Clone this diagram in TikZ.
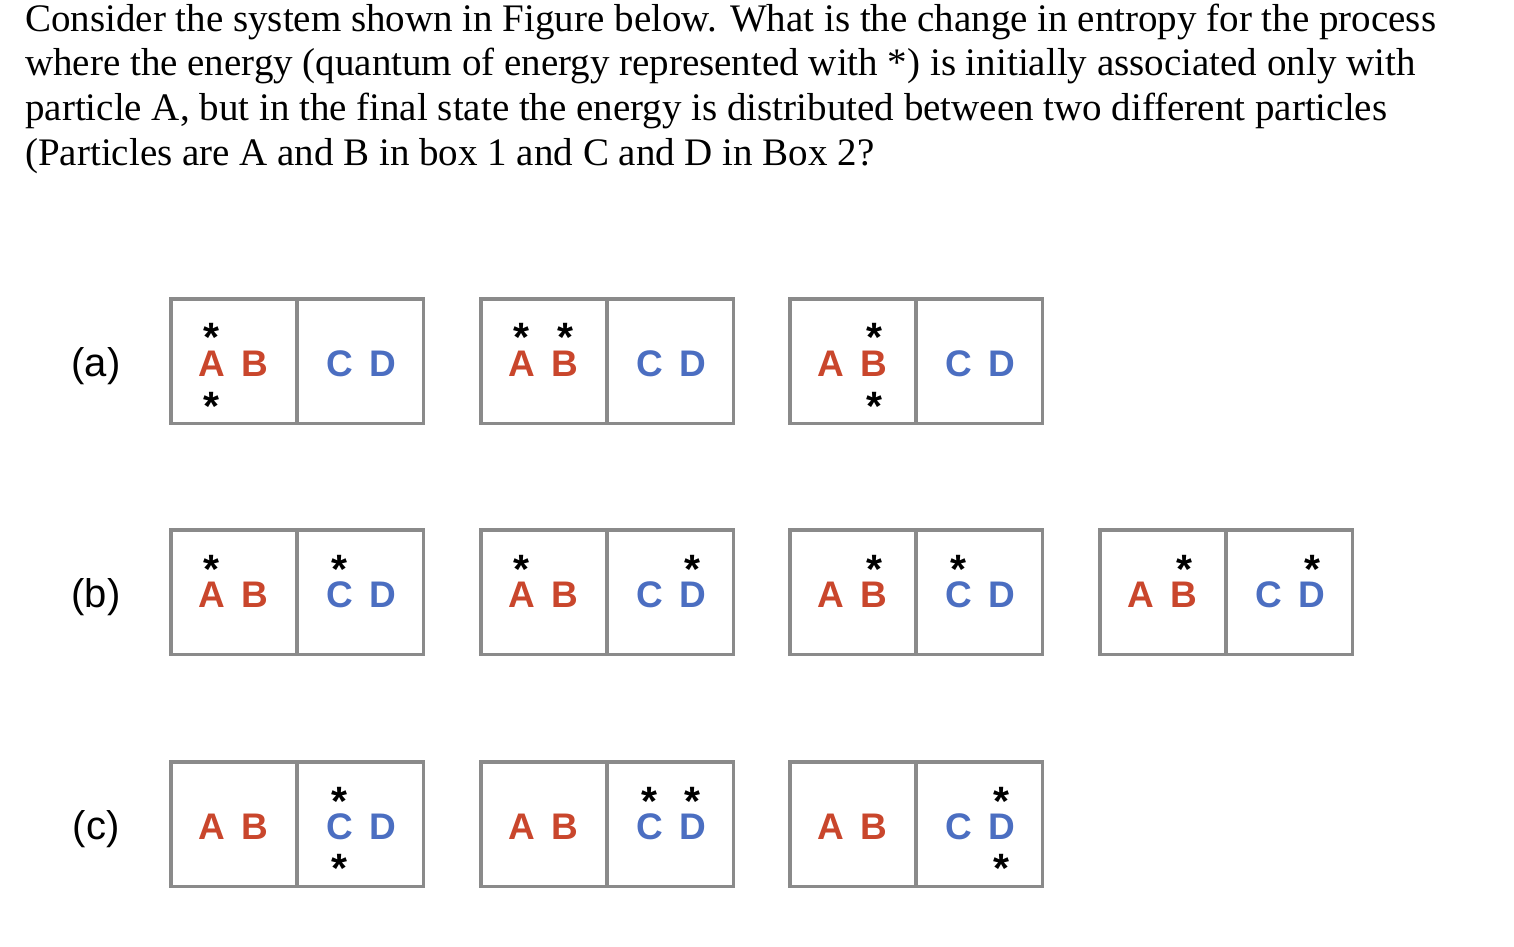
\documentclass[tikz,border=0pt]{standalone}
\usepackage{fontspec}
\setmainfont{Liberation Serif}
\setsansfont{Liberation Sans}
\definecolor{boxgray}{HTML}{8A8A8A}
\definecolor{pred}{HTML}{C9462C}
\definecolor{pblue}{HTML}{4B6EC1}
\tikzset{
  half/.style={draw=boxgray, line width=3.5pt, inner sep=0pt, minimum width=126pt, minimum height=124.5pt},
  redletter/.style={font=\sffamily\bfseries\fontsize{37}{37}\selectfont, text=pred, anchor=base, inner sep=0pt},
  blueletter/.style={font=\sffamily\bfseries\fontsize{37}{37}\selectfont, text=pblue, anchor=base, inner sep=0pt},
  starnode/.style={font=\sffamily\bfseries\fontsize{41}{41}\selectfont, anchor=base, inner sep=0pt},
  rowlabel/.style={font=\sffamily\fontsize{40}{40}\selectfont, anchor=base, inner sep=0pt},
  titleline/.style={font=\rmfamily\fontsize{39}{39}\selectfont, anchor=base west, inner sep=0pt},
}
\newcommand\twobox[3]{%
  \node[half] (#1L) at ({#2+64.75},{#3+64}) {};
  \node[half] (#1R) at ({#2+191.25},{#3+64}) {};
  \node[redletter] (#1A) at ({#2+43},{#3+79}) {A};
  \node[redletter] (#1B) at ({#2+86},{#3+79}) {B};
  \node[blueletter] (#1C) at ({#2+171},{#3+79}) {C};
  \node[blueletter] (#1D) at ({#2+214},{#3+79}) {D};
}
% #1 name, #2 x, #3 star centre y
\newcommand\starat[3]{\node[starnode] (#1) at ({#2},{#3}) {\raisebox{-0.58em}[0.17em][0.17em]{*}};}
\begin{document}
\begin{tikzpicture}[x=1pt,y=-1pt]
\useasboundingbox (0,0) rectangle (1514,946);
\node[titleline] (t1) at (25,31) {Consider the system shown in Figure below. What is the change in entropy for the process};
\node[titleline] (t2) at (25,75) {where the energy (quantum of energy represented with *) is initially associated only with};
\node[titleline] (t3) at (25,120) {particle A, but in the final state the energy is distributed between two different particles};
\node[titleline] (t4) at (25,165) {(Particles are A and B in box 1 and C and D in Box 2?};
% row labels
\node[rowlabel] (la) at (96,376) {(a)};
\node[rowlabel] (lb) at (96,607) {(b)};
\node[rowlabel] (lc) at (96,839) {(c)};
% row (a)
\twobox{a1}{169}{297}
\twobox{a2}{479}{297}
\twobox{a3}{788}{297}
\starat{sa1t}{211}{328}
\starat{sa1b}{211}{397}
\starat{sa2t}{521}{328}
\starat{sa2u}{565}{328}
\starat{sa3t}{874}{328}
\starat{sa3b}{874}{397}
% row (b)
\twobox{b1}{169}{528}
\twobox{b2}{479}{528}
\twobox{b3}{788}{528}
\twobox{b4}{1098}{528}
\starat{sb1t}{211}{560}
\starat{sb1u}{339}{560}
\starat{sb2t}{521}{560}
\starat{sb2u}{692}{560}
\starat{sb3t}{874}{560}
\starat{sb3u}{958}{560}
\starat{sb4t}{1184}{560}
\starat{sb4u}{1312}{560}
% row (c)
\twobox{c1}{169}{760}
\twobox{c2}{479}{760}
\twobox{c3}{788}{760}
\starat{sc1t}{339}{792}
\starat{sc1b}{339}{859}
\starat{sc2t}{649}{792}
\starat{sc2u}{692}{792}
\starat{sc3t}{1001}{792}
\starat{sc3b}{1001}{859}
\end{tikzpicture}
\end{document}
